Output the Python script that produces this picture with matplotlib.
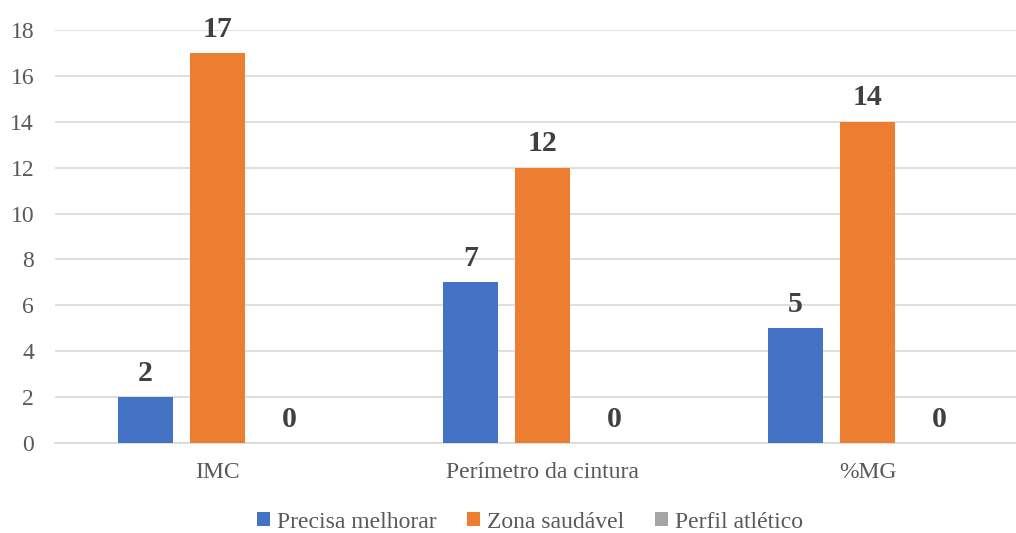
import matplotlib
matplotlib.use("Agg")
import matplotlib.pyplot as plt
import numpy as np

categories = ["IMC", "Perímetro da cintura", "%MG"]
series_names = ["Precisa melhorar", "Zona saudável", "Perfil atlético"]
precisa_melhorar = [2, 7, 5]
zona_saudavel = [17, 12, 14]
perfil_atletico = [0, 0, 0]
y_ticks = [0, 2, 4, 6, 8, 10, 12, 14, 16, 18]

colors = ["#4472C4", "#ED7D31", "#A5A5A5"]

plt.rcParams['font.family'] = ['Liberation Serif', 'DejaVu Serif']

fig = plt.figure(figsize=(10.16, 5.33), dpi=100)
W, H = 1016, 533
left_px, right_px = 55, 1030
top_px, base_px = 30, 443
ax = fig.add_axes([left_px / W, (H - base_px) / H,
                   (right_px - left_px) / W, (base_px - top_px) / H])

x = np.arange(len(categories))
bar_w = 0.172
step = 0.2215
all_series = [precisa_melhorar, zona_saudavel, perfil_atletico]
for i, (vals, name, col) in enumerate(zip(all_series, series_names, colors)):
    pos = x + (i - 1) * step
    bars = ax.bar(pos, vals, width=bar_w, color=col, label=name, zorder=3)
    for b, v in zip(bars, vals):
        ax.annotate(f"{v}", (b.get_x() + b.get_width() / 2, v),
                    xytext=(0, 7.5), textcoords="offset points",
                    ha="center", va="bottom", fontsize=21.5,
                    fontweight="bold", color="#404040", zorder=4)

ax.set_xlim(-0.5, len(categories) - 0.5)
ax.set_ylim(0, 18)
ax.set_yticks(y_ticks)
ax.set_xticks(x)
ax.set_xticklabels(categories)
ax.yaxis.grid(True, color="#D9D9D9", linewidth=1.2, zorder=0)
ax.set_axisbelow(True)
for s in ["top", "right", "left"]:
    ax.spines[s].set_visible(False)
ax.spines["bottom"].set_color("#D9D9D9")
ax.spines["bottom"].set_linewidth(1.2)
ax.tick_params(axis="both", length=0, labelsize=17, labelcolor="#595959")
ax.tick_params(axis="y", pad=15)
ax.tick_params(axis="x", pad=14)

fig.legend(loc="center", bbox_to_anchor=(530 / W, (H - 522) / H),
           ncol=3, frameon=False, fontsize=17, labelcolor="#595959",
           handlelength=0.55, handleheight=0.55, handletextpad=0.3,
           columnspacing=1.3, borderaxespad=0)

fig.savefig("out.png", dpi=100)
